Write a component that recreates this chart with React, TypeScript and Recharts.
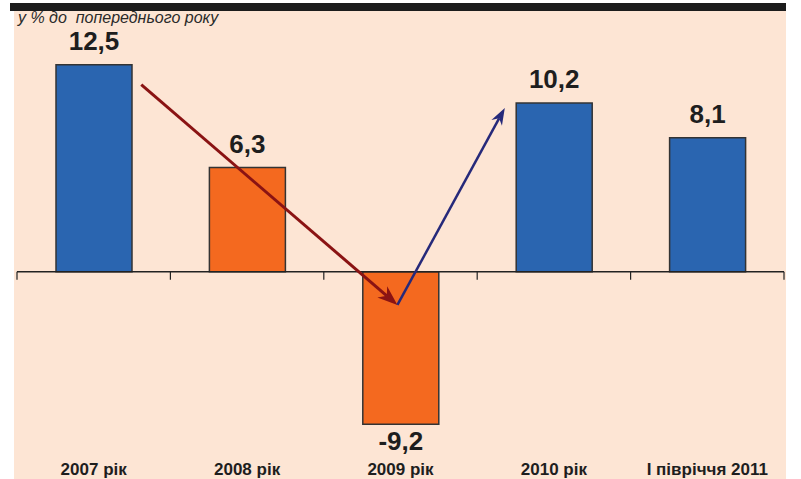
import React from 'react';
import { BarChart, Bar, XAxis, YAxis, Cell, LabelList, ReferenceLine } from 'recharts';

const categories = ['2007 рік', '2008 рік', '2009 рік', '2010 рік', 'I півріччя 2011'];
const values = [12.5, 6.3, -9.2, 10.2, 8.1];
const valueLabels = ['12,5', '6,3', '-9,2', '10,2', '8,1'];
const barColors = ['#2a65b0', '#f4691f', '#f4691f', '#2a65b0', '#2a65b0'];
const yDomain = [-11, 14];
// arrow annotations in (category-position, value) units
const arrowRed = [{ x: 0.81, y: 11.3 }, { x: 2.48, y: -2.0 }];
const arrowBlue = [{ x: 2.48, y: -2.0 }, { x: 3.18, y: 9.9 }];

const FONT = "'Liberation Sans', Arial, Helvetica, sans-serif";

const data = categories.map((c, i) => ({
  name: c,
  value: values[i],
  label: valueLabels[i],
  pos: i + 0.5,
}));

const makeArrow = (color: string, sw: number, headLen: number, headW: number) => (p: any) => {
  const { x1, y1, x2, y2 } = p;
  const dx = x2 - x1;
  const dy = y2 - y1;
  const len = Math.sqrt(dx * dx + dy * dy) || 1;
  const ux = dx / len;
  const uy = dy / len;
  const nx = -uy;
  const ny = ux;
  const bx = x2 - ux * headLen;
  const by = y2 - uy * headLen;
  const nX = x2 - ux * headLen * 0.7;
  const nY = y2 - uy * headLen * 0.7;
  const pts = [
    [x2, y2],
    [bx + nx * headW / 2, by + ny * headW / 2],
    [nX, nY],
    [bx - nx * headW / 2, by - ny * headW / 2],
  ]
    .map((q) => q.join(','))
    .join(' ');
  return (
    <g>
      <line x1={x1} y1={y1} x2={nX} y2={nY} stroke={color} strokeWidth={sw} />
      <polygon points={pts} fill={color} />
    </g>
  );
};

const ZeroLine = (p: any) => {
  const { x1, y1, x2 } = p;
  const n = categories.length;
  const step = (x2 - x1) / n;
  const ticks = [];
  for (let i = 0; i <= n; i++) {
    const tx = x1 + i * step;
    ticks.push(<line key={i} x1={tx} y1={y1} x2={tx} y2={y1 + 8} stroke="#222" strokeWidth={1.2} />);
  }
  return (
    <g>
      <line x1={x1} y1={y1} x2={x2} y2={y1} stroke="#222" strokeWidth={1.5} />
      {ticks}
    </g>
  );
};

const ValueLabel = (p: any) => {
  const { x, y, width, height, value } = p;
  const top = Math.min(y, y + height);
  const bottom = Math.max(y, y + height);
  const num = values[valueLabels.indexOf(value)];
  const ty = num >= 0 ? top - 15 : bottom + 26;
  return (
    <text x={x + width / 2} y={ty} textAnchor="middle" fontFamily={FONT} fontWeight="bold" fontSize={26} fill="#1e1e1e">
      {value}
    </text>
  );
};

const CatTick = (p: any) => {
  const { x, y, payload } = p;
  return (
    <text x={x} y={y} dy={21} textAnchor="middle" fontFamily={FONT} fontWeight="bold" fontSize={17} fill="#1e1e1e">
      {payload.value}
    </text>
  );
};

export default function App() {
  return (
    <div style={{ position: 'absolute', left: 0, top: 0, width: 801, height: 479, background: '#ffffff', overflow: 'hidden' }}>
      <div style={{ position: 'absolute', left: 14, top: 11, width: 772, height: 468, background: '#fde5d4' }} />
      <div style={{ position: 'absolute', left: 10, top: 3, width: 776, height: 8, background: '#1c1c1c' }} />
      <div
        style={{
          position: 'absolute',
          left: 18,
          top: 10,
          fontFamily: FONT,
          fontStyle: 'italic',
          fontSize: 16,
          lineHeight: '16px',
          color: '#2a2a2a',
          whiteSpace: 'pre',
        }}
      >
        {'у % до  попереднього року'}
      </div>
      <div style={{ position: 'absolute', left: 0, top: 0 }}>
        <BarChart width={801} height={479} data={data} margin={{ top: 40, right: 17, bottom: 0, left: 17 }}>
          <XAxis
            dataKey="name"
            height={25}
            axisLine={false}
            tickLine={false}
            tickSize={0}
            tickMargin={0}
            interval={0}
            tick={CatTick}
          />
          <XAxis xAxisId="num" type="number" dataKey="pos" domain={[0, categories.length]} hide height={0} />
          <YAxis hide width={0} domain={yDomain} allowDataOverflow />
          <Bar dataKey="value" barSize={76} stroke="#333" strokeWidth={1.5} isAnimationActive={false}>
            {data.map((d, i) => (
              <Cell key={i} fill={barColors[i]} />
            ))}
            <LabelList dataKey="label" content={<ValueLabel />} />
          </Bar>
          <ReferenceLine y={0} shape={ZeroLine} />
          <ReferenceLine
            xAxisId="num"
            segment={arrowRed}
            shape={makeArrow('#8a1313', 3, 20, 15)}
          />
          <ReferenceLine
            xAxisId="num"
            segment={arrowBlue}
            shape={makeArrow('#26297a', 2.5, 17, 12)}
          />
        </BarChart>
      </div>
    </div>
  );
}
